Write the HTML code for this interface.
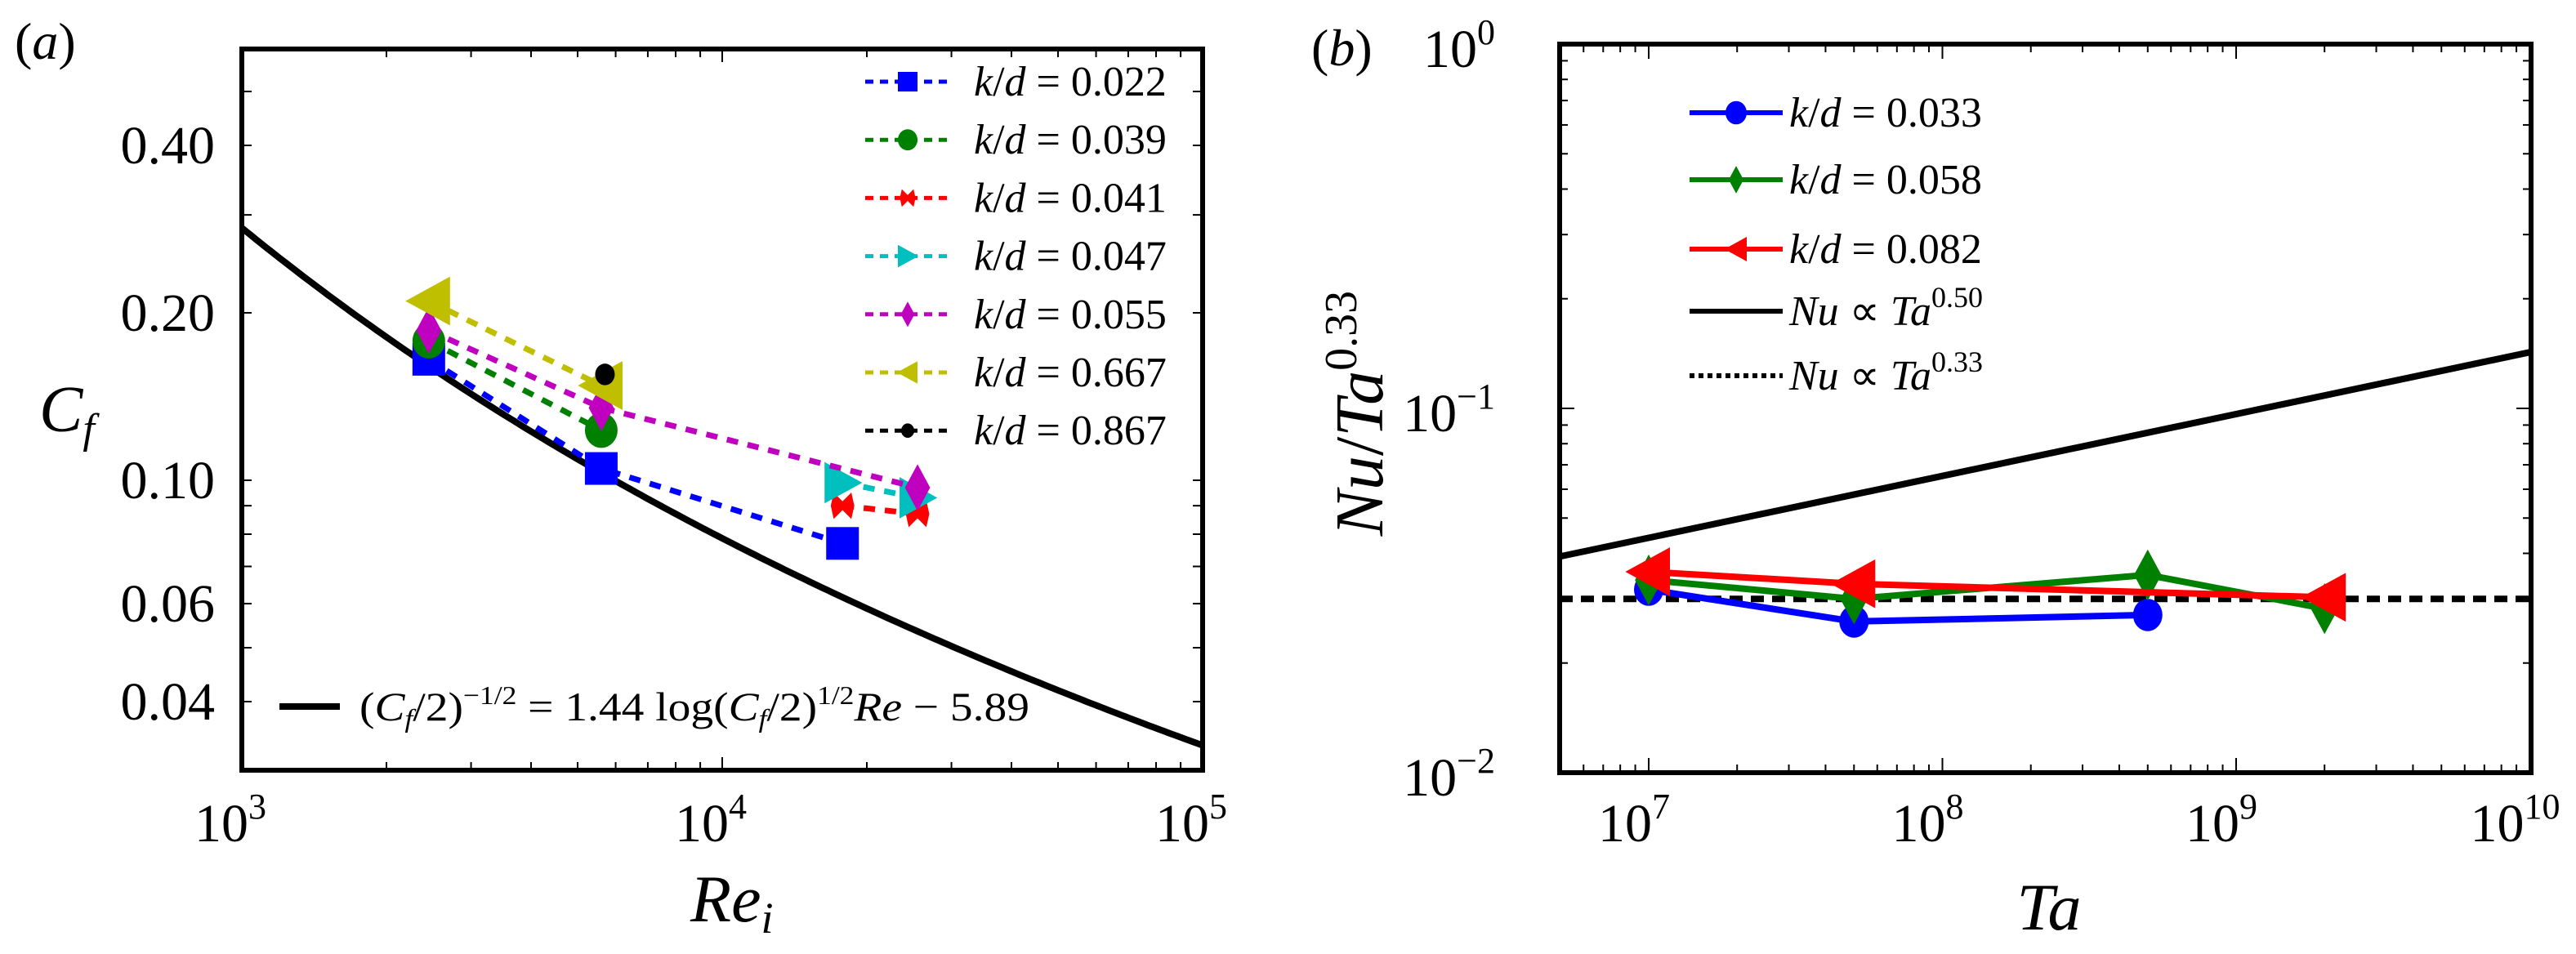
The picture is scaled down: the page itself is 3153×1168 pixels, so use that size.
<!DOCTYPE html>
<html><head><meta charset="utf-8"><style>
body{margin:0;background:#fff}
svg{display:block;font-family:"Liberation Serif",serif}
</style></head><body>
<svg id="fig" width="3153" height="1168" viewBox="0 0 3153 1168" xmlns="http://www.w3.org/2000/svg">
<g id="pa"></g>
<g id="pb"></g>
</svg>
<script>
// ---------- Panel (a) data ----------
const aSeriesNames = ["k/d = 0.022","k/d = 0.039","k/d = 0.041","k/d = 0.047","k/d = 0.055","k/d = 0.667","k/d = 0.867"];
const aKd = ["0.022","0.039","0.041","0.047","0.055","0.667","0.867"];
const aRe022 = [2450, 5600, 17800];   const aCf022 = [0.165, 0.105, 0.077];
const aRe039 = [2450, 5600];          const aCf039 = [0.178, 0.123];
const aRe041 = [17800, 25500];        const aCf041 = [0.090, 0.087];
const aRe047 = [17800, 25500];        const aCf047 = [0.099, 0.093];
const aRe055 = [2450, 5600, 25500];   const aCf055 = [0.186, 0.135, 0.097];
const aRe667 = [2450, 5600];          const aCf667 = [0.210, 0.148];
const aRe867 = [5700];                const aCf867 = [0.155];
const aYTicks = [0.40, 0.20, 0.10, 0.06, 0.04];
const aYTickLabels = ["0.40","0.20","0.10","0.06","0.04"];
const aXTicks = [3, 4, 5];
// ---------- Panel (b) data ----------
const bTa033 = [1e7, 5e7, 5e8];       const bNu033 = [0.0318, 0.0260, 0.0271];
const bTa058 = [1e7, 5e7, 5e8, 2e9];  const bNu058 = [0.0338, 0.0300, 0.0349, 0.0282];
const bTa082 = [1e7, 5e7, 2e9];       const bNu082 = [0.0356, 0.0330, 0.0303];
const bRefCoef050 = 0.0392;
const bRefConst033 = 0.030;
const bXTicks = [7, 8, 9, 10];
const bYTicks = [0, -1, -2];

const NS="http://www.w3.org/2000/svg";
function mk(parent,tag,attrs,text){const e=document.createElementNS(NS,tag);for(const k in attrs)e.setAttribute(k,attrs[k]);if(text!==undefined)e.textContent=text;parent.appendChild(e);return e;}

// ===== Panel A =====
const pa=document.getElementById('pa');
const aL=296,aR=1472,aT=60,aB=943;
const ax=v=>aL+(Math.log10(v)-3)*(aR-aL)/2;
const ayPerDec=681;
const ay=v=>588-Math.log10(v/0.1)*ayPerDec;
const yMinA=0.1*Math.pow(10,-(aB-588)/ayPerDec), yMaxA=0.1*Math.pow(10,(588-aT)/ayPerDec);
for(let d=3;d<5;d++)for(let m=1;m<10;m++){const v=m*Math.pow(10,d);const x=ax(v);const len=m===1?16:10;
 let t=mk(pa,'line',{x1:x,y1:aB,x2:x,y2:aB-len,stroke:'#000','stroke-width':2});
 t=mk(pa,'line',{x1:x,y1:aT,x2:x,y2:aT+len,stroke:'#000','stroke-width':2});}
[0.03,0.04,0.05,0.06,0.07,0.08,0.09,0.1,0.2,0.3,0.4,0.5].forEach(v=>{if(v<yMinA||v>yMaxA)return;const y=ay(v);
 let t=mk(pa,'line',{x1:aL,y1:y,x2:aL+12,y2:y,stroke:'#000','stroke-width':2});
 t=mk(pa,'line',{x1:aR,y1:y,x2:aR-12,y2:y,stroke:'#000','stroke-width':2});});
aYTicks.forEach((v,i)=>{const t=mk(pa,'text',{x:263,y:ay(v)+22,'text-anchor':'end','font-size':66},aYTickLabels[i]);});
aXTicks.forEach(p=>{const g=mk(pa,'text',{x:ax(Math.pow(10,p))-14,y:1030,'text-anchor':'middle','font-size':66});
 mk(g,'tspan',{},'10');mk(g,'tspan',{dy:-28,'font-size':44},String(p));});
let pts=[];for(let i=0;i<=200;i++){const lr=3+2*i/200;const Re=Math.pow(10,lr);let x=5;for(let k=0;k<60;k++)x=1.44*Math.log(Re/x)-5.89;const cf=2/(x*x);pts.push(ax(Re).toFixed(1)+','+ay(cf).toFixed(1));}
let e=mk(pa,'polyline',{points:pts.join(' '),fill:'none',stroke:'#000','stroke-width':8});

function marker(g,type,x,y,c,s){let m;
 if(type==='s')m=mk(g,'rect',{x:x-s,y:y-s,width:2*s,height:2*s,fill:c});
 else if(type==='o')m=mk(g,'ellipse',{cx:x,cy:y,rx:s,ry:s*1.08,fill:c});
 else if(type==='x')m=mk(g,'path',{d:`M${x-s*.6},${y-s*.9}L${x},${y-s*.3}L${x+s*.6},${y-s*.9}L${x+s*.8},${y}L${x+s*.6},${y+s*.9}L${x},${y+s*.3}L${x-s*.6},${y+s*.9}L${x-s*.8},${y}Z`,fill:c});
 else if(type==='>')m=mk(g,'polygon',{points:`${x-s},${y-s*1.15} ${x+s*1.1},${y} ${x-s},${y+s*1.15}`,fill:c});
 else if(type==='<')m=mk(g,'polygon',{points:`${x+s},${y-s*1.15} ${x-s*1.1},${y} ${x+s},${y+s*1.15}`,fill:c});
 else if(type==='d')m=mk(g,'polygon',{points:`${x},${y-s*1.3} ${x+s*.7},${y} ${x},${y+s*1.3} ${x-s*.7},${y}`,fill:c});
 else if(type==='p')m=mk(g,'ellipse',{cx:x,cy:y,rx:s,ry:s*1.1,fill:c});
 return m;}
const aSeries=[[aRe022,aCf022,'#0000ff','s'],[aRe039,aCf039,'#008000','o'],[aRe041,aCf041,'#ff0000','x'],[aRe047,aCf047,'#00bfbf','>'],[aRe055,aCf055,'#bf00bf','d'],[aRe667,aCf667,'#bfbf00','<'],[aRe867,aCf867,'#000000','p']];
const aSizes=[20,20,18,22,22,26,12];
aSeries.forEach((s,i)=>{const g=mk(pa,'g',{});
 const p=s[0].map((r,j)=>ax(r)+','+ay(s[1][j])).join(' ');
 if(s[0].length>1){const l=mk(g,'polyline',{points:p,fill:'none',stroke:s[2],'stroke-width':7,'stroke-dasharray':'14 12'});}
 s[0].forEach((r,j)=>{const m=marker(g,s[3],ax(r),ay(s[1][j]),s[2],aSizes[i]);});});
const legA=mk(pa,'g',{});
aSeries.forEach((s,i)=>{const y=100+i*71.2;const g=mk(legA,'g',{});
 mk(g,'line',{x1:1059,y1:y,x2:1164,y2:y,stroke:s[2],'stroke-width':5,'stroke-dasharray':'10 8'});
 marker(g,s[3],1111,y,s[2],i===6?8:12);
 const t=mk(g,'text',{x:1192,y:y+17,'font-size':52});
 mk(t,'tspan',{'font-style':'italic'},'k');mk(t,'tspan',{},'/');mk(t,'tspan',{'font-style':'italic'},'d');mk(t,'tspan',{},' = '+aKd[i]);});
const lc=mk(pa,'g',{});
mk(lc,'line',{x1:342,y1:865,x2:416,y2:865,stroke:'#000','stroke-width':8});
const ft=mk(lc,'text',{x:440,y:882,'font-size':50,textLength:820,lengthAdjust:'spacingAndGlyphs'});
mk(ft,'tspan',{},'(');mk(ft,'tspan',{'font-style':'italic'},'C');mk(ft,'tspan',{'font-style':'italic','font-size':32,dy:8},'f');mk(ft,'tspan',{dy:-8},'/2)');
mk(ft,'tspan',{'font-size':32,dy:-20},'−1/2');mk(ft,'tspan',{dy:20},' = 1.44 log(');mk(ft,'tspan',{'font-style':'italic'},'C');mk(ft,'tspan',{'font-style':'italic','font-size':32,dy:8},'f');
mk(ft,'tspan',{dy:-8},'/2)');mk(ft,'tspan',{'font-size':32,dy:-20},'1/2');mk(ft,'tspan',{'font-style':'italic',dy:20},'Re');mk(ft,'tspan',{},' − 5.89');
e=mk(pa,'rect',{x:aL,y:aT,width:aR-aL,height:aB-aT,fill:'none',stroke:'#000','stroke-width':6});
let t=mk(pa,'text',{x:18,y:72,'font-size':64});
mk(t,'tspan',{},'(');mk(t,'tspan',{'font-style':'italic'},'a');mk(t,'tspan',{},')');
t=mk(pa,'text',{x:48,y:528,'font-size':80,'font-style':'italic'});
mk(t,'tspan',{},'C');mk(t,'tspan',{'font-size':52,dy:14},'f');
t=mk(pa,'text',{x:845,y:1128,'font-size':82,'font-style':'italic'});
mk(t,'tspan',{},'Re');mk(t,'tspan',{'font-size':54,dy:14},'i');

// ===== Panel B =====
const pb=document.getElementById('pb');
const bL=1909,bR=3098,bT=54,bB=946;
const bx=v=>2018+(Math.log10(v)-7)*359.5;
const by=v=>bB-(Math.log10(v)+2)*446;
for(let d=6;d<10;d++)for(let m=1;m<10;m++){const v=m*Math.pow(10,d);const x=bx(v);if(x<bL||x>bR)continue;const len=m===1?18:10;
 let q=mk(pb,'line',{x1:x,y1:bB,x2:x,y2:bB-len,stroke:'#000','stroke-width':2});
 q=mk(pb,'line',{x1:x,y1:bT,x2:x,y2:bT+len,stroke:'#000','stroke-width':2});}
for(let d=-2;d<0;d++)for(let m=1;m<10;m++){const y=by(m*Math.pow(10,d));const len=m===1?18:10;
 let q=mk(pb,'line',{x1:bL,y1:y,x2:bL+len,y2:y,stroke:'#000','stroke-width':2});
 q=mk(pb,'line',{x1:bR,y1:y,x2:bR-len,y2:y,stroke:'#000','stroke-width':2});}
bYTicks.forEach(p=>{const g=mk(pb,'text',{x:1830,y:by(Math.pow(10,p))+28,'text-anchor':'end','font-size':66});
 mk(g,'tspan',{},'10');mk(g,'tspan',{dy:-28,'font-size':44},p===0?'0':'−'+(-p));});
bXTicks.forEach(p=>{const g=mk(pb,'text',{x:bx(Math.pow(10,p))-18,y:1030,'text-anchor':'middle','font-size':66});
 mk(g,'tspan',{},'10');mk(g,'tspan',{dy:-28,'font-size':44},String(p));});
const taMin=Math.pow(10,7-(2018-bL)/359.5), taMax=1e10;
e=mk(pb,'line',{x1:bL,y1:by(bRefCoef050),x2:bR,y2:by(bRefCoef050*Math.pow(taMax/taMin,0.17)),stroke:'#000','stroke-width':8});

e=mk(pb,'line',{x1:bL,y1:by(bRefConst033),x2:bR,y2:by(bRefConst033),stroke:'#000','stroke-width':8,'stroke-dasharray':'16 10'});

const bSeries=[[bTa033,bNu033,'#0000ff','p','0.033'],[bTa058,bNu058,'#008000','d','0.058'],[bTa082,bNu082,'#ff0000','<','0.082']];
const bSizes=[18,24,26];
bSeries.forEach((s,i)=>{const g=mk(pb,'g',{});
 const l=mk(g,'polyline',{points:s[0].map((r,j)=>bx(r)+','+by(s[1][j])).join(' '),fill:'none',stroke:s[2],'stroke-width':8});
 
 s[0].forEach((r,j)=>{const m=marker(g,s[3],bx(r),by(s[1][j]),s[2],bSizes[i]);});});
const legB=mk(pb,'g',{});
const legY=[138,220,305,381,460];
bSeries.forEach((s,i)=>{const y=legY[i];const g=mk(legB,'g',{});
 mk(g,'line',{x1:2068,y1:y,x2:2182,y2:y,stroke:s[2],'stroke-width':6});marker(g,s[3],2125,y,s[2],13);
 const q=mk(g,'text',{x:2190,y:y+17,'font-size':52});mk(q,'tspan',{'font-style':'italic'},'k');mk(q,'tspan',{},'/');mk(q,'tspan',{'font-style':'italic'},'d');mk(q,'tspan',{},' = '+s[4]);});
[['0.50',''],['0.33','6 5']].forEach((r,i)=>{const y=legY[3+i];const g=mk(legB,'g',{});
 mk(g,'line',{x1:2068,y1:y,x2:2182,y2:y,stroke:'#000','stroke-width':6,'stroke-dasharray':r[1]||'none'});
 const q=mk(g,'text',{x:2190,y:y+17,'font-size':52});mk(q,'tspan',{'font-style':'italic'},'Nu');mk(q,'tspan',{},' ∝ ');mk(q,'tspan',{'font-style':'italic'},'Ta');mk(q,'tspan',{'font-size':36,dy:-22},r[0]);});
e=mk(pb,'rect',{x:bL,y:bT,width:bR-bL,height:bB-bT,fill:'none',stroke:'#000','stroke-width':6});
t=mk(pb,'text',{x:1605,y:80,'font-size':64});
mk(t,'tspan',{},'(');mk(t,'tspan',{'font-style':'italic'},'b');mk(t,'tspan',{},')');
t=mk(pb,'text',{x:0,y:0,'font-size':84,'font-style':'italic','text-anchor':'middle',transform:'translate(1692,506) rotate(-90)'});
mk(t,'tspan',{},'Nu');mk(t,'tspan',{'font-style':'normal'},'/');mk(t,'tspan',{},'Ta');mk(t,'tspan',{'font-style':'normal','font-size':56,dy:-32},'0.33');
t=mk(pb,'text',{x:2508,y:1138,'font-size':82,'font-style':'italic','text-anchor':'middle'},'Ta');
</script>
</body></html>
